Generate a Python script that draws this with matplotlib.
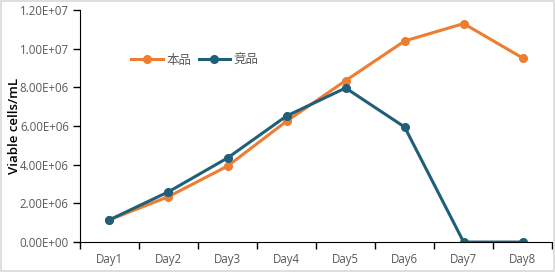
import matplotlib.pyplot as plt
import numpy as np
from matplotlib.ticker import FuncFormatter

plt.rcParams['font.family'] = ['Open Sans', 'Noto Sans CJK SC', 'DejaVu Sans']

dias = ['Day1', 'Day2', 'Day3', 'Day4', 'Day5', 'Day6', 'Day7', 'Day8']
benpin = [1.15e6, 2.35e6, 3.93e6, 6.25e6, 8.35e6, 1.04e7, 1.13e7, 9.52e6]
jingpin = [1.15e6, 2.6e6, 4.35e6, 6.52e6, 7.97e6, 5.95e6, 0, 0]
yticks = [0, 2e6, 4e6, 6e6, 8e6, 1e7, 1.2e7]

fig = plt.figure(figsize=(5.55, 2.72), dpi=100)
fig.patches.append(plt.Rectangle((0.001, 0.002), 0.997, 0.995, transform=fig.transFigure,
                                 fill=False, edgecolor='#d9d9d9', linewidth=1.2))
ax = fig.add_axes([0.144, 0.11, 0.851, 0.853])

x = np.arange(len(dias))
ax.plot(x, benpin, color='#ED7D31', lw=2.2, marker='o', ms=5.5, label='本品')
ax.plot(x, jingpin, color='#1F5F7A', lw=2.2, marker='o', ms=5.5, label='竞品')

ax.set_xlim(-0.5, len(dias) - 0.5)
ax.set_ylim(0, 1.2e7)
ax.set_xticks(np.arange(-0.5, len(dias)))
ax.set_xticklabels([])
ax.set_xticks(x, minor=True)
ax.set_xticklabels(dias, minor=True)
ax.tick_params(axis='x', which='major', length=5, width=1, color='black')
ax.tick_params(axis='x', which='minor', length=0, pad=8, labelsize=8.3, labelcolor='#595959')
ax.set_yticks(yticks)
ax.yaxis.set_major_formatter(FuncFormatter(lambda v, p: '%.2E' % v))
ax.tick_params(axis='y', length=5, width=1, labelsize=8.3, labelcolor='#595959', pad=3)

for s in ['top', 'right']:
    ax.spines[s].set_visible(False)
ax.spines['left'].set_color('black')
ax.spines['bottom'].set_color('black')

ax.set_ylabel('Viable cells/mL', fontsize=9.5, color='black', fontweight='semibold')
ax.yaxis.set_label_coords(-0.125, 0.5)
ax.legend(loc='upper left', bbox_to_anchor=(0.085, 0.86), frameon=False, ncol=2,
          fontsize=9, handlelength=2.5, columnspacing=0.6, handletextpad=0.3,
          labelcolor='#595959')

fig.savefig('out.png', dpi=100)
